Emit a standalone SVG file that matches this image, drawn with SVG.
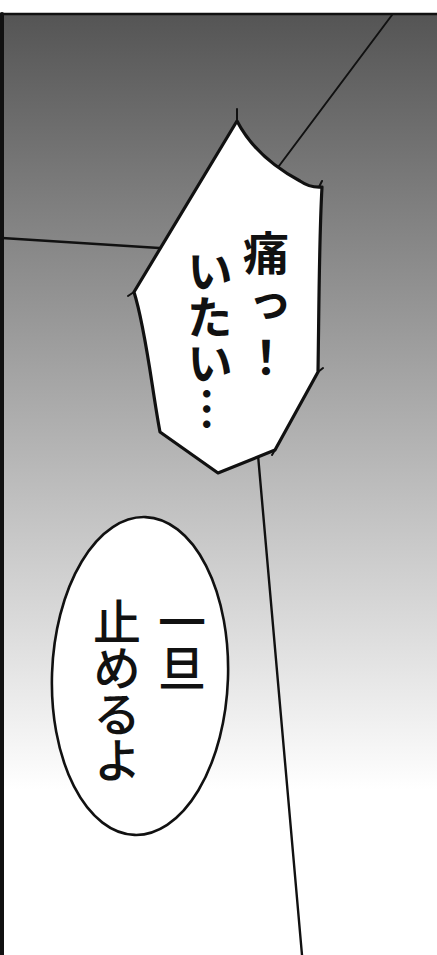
<svg xmlns="http://www.w3.org/2000/svg" width="437" height="955" viewBox="0 0 437 955">
  <style>
    .ln { stroke: #111; fill: none; stroke-linecap: round; stroke-linejoin: round; }
    .bub { fill: #fff; stroke: #111; stroke-linejoin: round; }
    .vt { writing-mode: vertical-rl; font-family: "Noto Sans CJK JP", "Noto Sans", sans-serif; fill: #111; }
    .b1 { font-size: 46px; font-weight: 700; }
    .b2 { font-size: 48px; font-weight: 500; letter-spacing: -2px; }
  </style>
  <defs>
    <linearGradient id="bg" gradientUnits="userSpaceOnUse" x1="0" y1="15" x2="0" y2="790">
      <stop offset="0" stop-color="#555555"/>
      <stop offset="1" stop-color="#ffffff"/>
    </linearGradient>
  </defs>
  <rect x="0" y="0" width="437" height="955" fill="#fff"/>
  <g id="panel">
    <rect x="2" y="14" width="440" height="950" fill="url(#bg)"/>
    <line class="ln" x1="0" y1="14" x2="437" y2="14" stroke-width="2.5"/>
    <line class="ln" x1="2" y1="14" x2="2" y2="955" stroke-width="4"/>
  </g>
  <g id="connectors">
    <line class="ln" x1="392" y1="15" x2="270" y2="178" stroke-width="2"/>
    <line class="ln" x1="2" y1="238" x2="175" y2="249" stroke-width="2.4"/>
    <line class="ln" x1="258" y1="455" x2="302" y2="955" stroke-width="2.4"/>
  </g>
  <g id="bubble1">
    <path class="bub" stroke-width="3.2" d="M237,121 C250,146 272,166 300,181 Q310,188 322,187 C319,240 319,310 318,372 L275,450 L218,473 L160,432 C152,390 146,330 134,292 Z"/>
    <path class="ln" stroke-width="2" d="M237,121 L237,109 M319,187 L322,181 M318,372 L323,368 M275,450 L272,455 M134,292 L128,296"/>
    <text class="vt b1" x="266" y="230" letter-spacing="6">痛っ！</text>
    <text class="vt b1" x="210" y="248">いたい…</text>
  </g>
  <g id="bubble2">
    <ellipse class="bub" cx="140" cy="676" rx="88" ry="159" stroke-width="2.6" transform="rotate(2 140 676)"/>
    <text class="vt b2" x="182" y="598">一旦</text>
    <text class="vt b2" x="117" y="598">止めるよ</text>
  </g>
</svg>
